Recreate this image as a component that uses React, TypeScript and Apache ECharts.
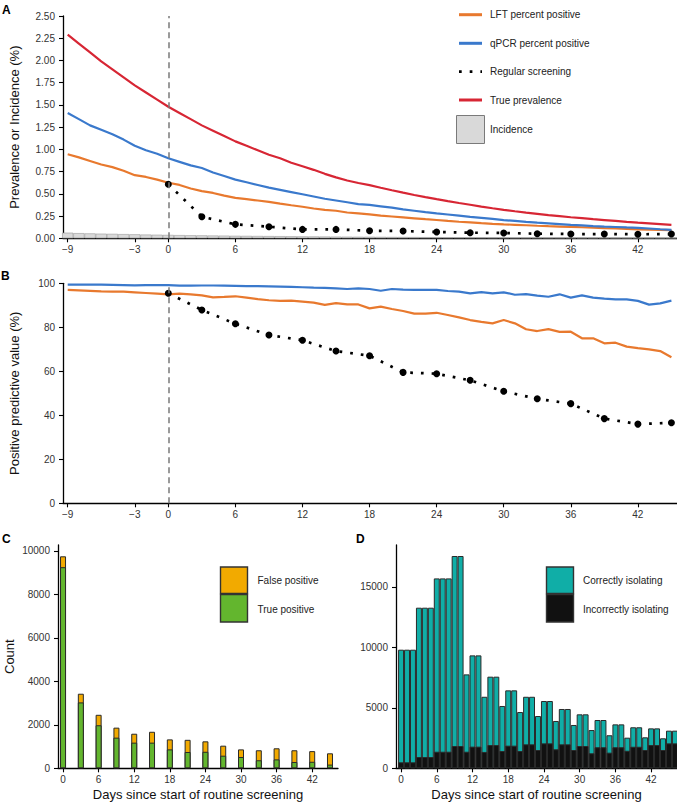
import React, { useEffect, useRef } from "react";
import * as echarts from "echarts";

// ---------- Panel A / B: daily values ----------
const days = [-9, -8, -7, -6, -5, -4, -3, -2, -1, 0, 1, 2, 3, 4, 5, 6, 7, 8, 9, 10, 11, 12, 13, 14, 15, 16, 17, 18, 19, 20, 21, 22, 23, 24, 25, 26, 27, 28, 29, 30, 31, 32, 33, 34, 35, 36, 37, 38, 39, 40, 41, 42, 43, 44, 45];

const truePrevalence = [2.29, 2.19, 2.09, 1.99, 1.9, 1.81, 1.72, 1.64, 1.56, 1.48, 1.41, 1.34, 1.27, 1.21, 1.15, 1.09, 1.04, 0.99, 0.94, 0.9, 0.85, 0.81, 0.77, 0.725, 0.685, 0.65, 0.622, 0.598, 0.568, 0.54, 0.513, 0.487, 0.463, 0.44, 0.418, 0.397, 0.377, 0.357, 0.338, 0.32, 0.304, 0.289, 0.275, 0.261, 0.249, 0.237, 0.226, 0.215, 0.205, 0.195, 0.185, 0.176, 0.168, 0.16, 0.152];

const qpcrPositive = [1.41, 1.34, 1.27, 1.22, 1.17, 1.11, 1.04, 0.99, 0.95, 0.9, 0.86, 0.82, 0.79, 0.74, 0.7, 0.66, 0.63, 0.6, 0.57, 0.545, 0.52, 0.495, 0.47, 0.445, 0.425, 0.405, 0.385, 0.375, 0.36, 0.345, 0.325, 0.31, 0.295, 0.281, 0.268, 0.255, 0.242, 0.23, 0.218, 0.205, 0.195, 0.185, 0.176, 0.168, 0.16, 0.152, 0.145, 0.138, 0.132, 0.127, 0.122, 0.118, 0.11, 0.102, 0.095];

const lftPositive = [0.945, 0.91, 0.87, 0.83, 0.8, 0.76, 0.71, 0.69, 0.66, 0.625, 0.6, 0.56, 0.53, 0.51, 0.48, 0.455, 0.44, 0.425, 0.41, 0.39, 0.372, 0.355, 0.335, 0.32, 0.31, 0.29, 0.28, 0.27, 0.255, 0.245, 0.235, 0.225, 0.215, 0.206, 0.195, 0.186, 0.178, 0.17, 0.163, 0.157, 0.152, 0.147, 0.141, 0.136, 0.132, 0.128, 0.124, 0.12, 0.115, 0.111, 0.107, 0.1, 0.097, 0.095, 0.093];

const incidence = [0.063, 0.058, 0.055, 0.052, 0.05, 0.047, 0.045, 0.042, 0.04, 0.038, 0.036, 0.034, 0.033, 0.031, 0.03, 0.028, 0.027, 0.026, 0.025, 0.024, 0.023, 0.022, 0.021, 0.02, 0.019, 0.018, 0.017, 0.017, 0.016, 0.015, 0.015, 0.014, 0.013, 0.013, 0.012, 0.012, 0.011, 0.011, 0.01, 0.01, 0.009, 0.009, 0.009, 0.008, 0.008, 0.008, 0.007, 0.007, 0.007, 0.006, 0.006, 0.006, 0.006, 0.005, 0.005];

const screenDays = [0, 3, 6, 9, 12, 15, 18, 21, 24, 27, 30, 33, 36, 39, 42, 45];
const screeningPositive = [0.607, 0.243, 0.157, 0.13, 0.1, 0.1, 0.085, 0.082, 0.071, 0.063, 0.06, 0.052, 0.048, 0.048, 0.045, 0.048];

const qpcrPPV = [99.4, 99.4, 99.4, 99.4, 99.3, 99.2, 99.1, 99.2, 99.2, 99.2, 98.9, 98.9, 99.0, 99.0, 98.9, 98.8, 98.7, 98.7, 98.6, 98.5, 98.4, 98.2, 98.0, 97.9, 97.7, 97.4, 97.7, 97.4, 96.6, 97.4, 97.1, 97.0, 97.0, 97.0, 96.5, 96.2, 95.4, 96.0, 95.4, 95.9, 94.8, 95.1, 94.4, 93.9, 95.0, 93.5, 94.5, 93.5, 93.0, 92.7, 92.7, 92.0, 90.3, 90.9, 92.1];

const lftPPV = [97.0, 96.8, 96.6, 96.3, 96.2, 96.2, 95.9, 95.6, 95.3, 95.0, 95.3, 95.0, 94.5, 93.6, 93.8, 94.1, 93.5, 92.8, 92.3, 92.0, 92.1, 91.7, 91.2, 90.2, 91.0, 90.4, 90.4, 88.6, 89.4, 88.3, 87.4, 86.2, 86.2, 86.6, 85.6, 84.5, 83.3, 82.5, 81.8, 83.3, 81.8, 79.1, 78.3, 79.2, 77.9, 78.0, 75.0, 75.0, 72.7, 73.0, 71.2, 70.5, 70.0, 69.2, 66.4];

const screeningPPV = [95.5, 87.9, 81.6, 76.5, 74.1, 69.2, 67.1, 59.5, 58.9, 55.9, 50.9, 47.5, 45.3, 38.5, 36.0, 36.6];

// ---------- Panel C ----------
const truePositive = [9250, 3030, 1980, 1410, 1180, 1180, 870, 750, 760, 580, 520, 370, 410, 290, 300, 170];
const falsePositive = [500, 400, 480, 460, 410, 500, 460, 560, 480, 460, 350, 460, 510, 540, 490, 520];

// ---------- Panel D ----------
const isolationDays = [0, 1, 2, 3, 4, 5, 6, 7, 8, 9, 10, 11, 12, 13, 14, 15, 16, 17, 18, 19, 20, 21, 22, 23, 24, 25, 26, 27, 28, 29, 30, 31, 32, 33, 34, 35, 36, 37, 38, 39, 40, 41, 42, 43, 44, 45, 46];
const incorrectlyIsolating = [495, 495, 495, 930, 930, 930, 1370, 1370, 1370, 1840, 1840, 1370, 1790, 1790, 1350, 1920, 1920, 1430, 1870, 1870, 1430, 1980, 1980, 1510, 2060, 2060, 1570, 1980, 1980, 1510, 1840, 1840, 1240, 1740, 1740, 1290, 1740, 1740, 1450, 1780, 1780, 1510, 1920, 1920, 1510, 2060, 2060];
const correctlyIsolating = [9305, 9305, 9305, 12340, 12340, 12340, 14320, 14320, 14320, 15700, 15700, 6390, 7540, 7540, 4560, 5650, 5650, 3720, 4570, 4570, 3220, 3930, 3930, 2810, 3500, 3500, 2340, 2920, 2920, 2070, 2620, 2620, 1920, 2250, 2250, 1440, 1890, 1890, 1080, 1610, 1610, 1050, 1380, 1380, 970, 1050, 1050];

// ---------- tick labels ----------
const ticksAB = [-9, -3, 0, 6, 12, 18, 24, 30, 36, 42];
const ticksCD = [0, 6, 12, 18, 24, 30, 36, 42];
const ticksC = [0, 2000, 4000, 6000, 8000, 10000];
const ticksD = [0, 5000, 10000, 15000];

const FONT = "Liberation Sans, Arial, sans-serif";
const C_ORANGE = "#E8792E";
const C_BLUE = "#3A79CC";
const C_RED = "#D72634";
const C_GOLD = "#F2AA00";
const C_GREEN = "#63B62E";
const C_TEAL = "#10AEA7";
const C_BLACK = "#111111";

function pairs(xs: number[], ys: number[]) {
  return xs.map((x, i) => [x, ys[i]]);
}
// stacked top: bottom + top segment, drawn behind the bottom segment
function stackedTops(xs: number[], bottom: number[], top: number[]) {
  return xs.map((x, i) => [x, bottom[i] + top[i]]);
}

function minusFmt(v: number) {
  return v < 0 ? "\u2212" + Math.abs(v) : String(v);
}

const axisLineStyle = { show: true, onZero: false, lineStyle: { color: "#000", width: 1.3 } };
const tickStyle = (vals: number[]) => ({
  show: true,
  length: 4,
  customValues: vals,
  lineStyle: { color: "#000", width: 1.1 },
});
const labelStyle = (vals: number[], fmt?: (v: number) => string, margin = 6) => ({
  show: true,
  customValues: vals,
  color: "#333",
  fontSize: 10,
  fontFamily: FONT,
  margin,
  formatter: fmt || ((v: number) => String(v)),
});
const nameStyle = { fontSize: 13, color: "#111", fontFamily: FONT };

export default function App() {
  const ref = useRef<HTMLDivElement>(null);

  useEffect(() => {
    document.body.style.margin = "0";
    if (!ref.current) return;
    const chart = echarts.init(ref.current, undefined, { renderer: "svg" });

    const dashLine = {
      silent: true,
      symbol: ["none", "none"],
      label: { show: false },
      lineStyle: { color: "#7a7a7a", type: [6, 4], width: 1.5 },
      data: [{ xAxis: 0 }],
    };

    const option: any = {
      animation: false,
      textStyle: { fontFamily: FONT },
      grid: [
        { left: 58, top: 16, width: 619, height: 222.3 },
        { left: 58, top: 283.3, width: 619, height: 220 },
        { left: 58, top: 545, width: 280, height: 223.3 },
        { left: 396, top: 545, width: 281, height: 223.3 },
      ],
      xAxis: [
        {
          type: "value", gridIndex: 0, min: -9.42, max: 45.5,
          axisLine: axisLineStyle, axisTick: tickStyle(ticksAB),
          axisLabel: labelStyle(ticksAB, minusFmt), splitLine: { show: false },
        },
        {
          type: "value", gridIndex: 1, min: -9.42, max: 45.5,
          axisLine: axisLineStyle, axisTick: tickStyle(ticksAB),
          axisLabel: labelStyle(ticksAB, minusFmt), splitLine: { show: false },
        },
        {
          type: "value", gridIndex: 2, min: -0.85, max: 46.35,
          axisLine: axisLineStyle, axisTick: tickStyle(ticksCD),
          axisLabel: labelStyle(ticksCD), splitLine: { show: false },
          name: "Days since start of routine screening", nameLocation: "middle", nameGap: 20,
          nameTextStyle: nameStyle,
        },
        {
          type: "value", gridIndex: 3, min: -0.85, max: 46.35,
          axisLine: axisLineStyle, axisTick: tickStyle(ticksCD),
          axisLabel: labelStyle(ticksCD), splitLine: { show: false },
          name: "Days since start of routine screening", nameLocation: "middle", nameGap: 20,
          nameTextStyle: nameStyle,
        },
      ],
      yAxis: [
        {
          type: "value", gridIndex: 0, min: 0, max: 2.5, interval: 0.25,
          axisLine: axisLineStyle, axisTick: { show: true, length: 4, lineStyle: { color: "#000", width: 1.1 } },
          axisLabel: { color: "#333", fontSize: 10, fontFamily: FONT, margin: 8, formatter: (v: number) => v.toFixed(2) },
          splitLine: { show: false },
          name: "Prevalence or Incidence (%)", nameLocation: "middle", nameGap: 42,
          nameTextStyle: nameStyle,
        },
        {
          type: "value", gridIndex: 1, min: 0, max: 100, interval: 20,
          axisLine: axisLineStyle, axisTick: { show: true, length: 4, lineStyle: { color: "#000", width: 1.1 } },
          axisLabel: { color: "#333", fontSize: 10, fontFamily: FONT, margin: 8 },
          splitLine: { show: false },
          name: "Positive predictive value (%)", nameLocation: "middle", nameGap: 42,
          nameTextStyle: nameStyle,
        },
        {
          type: "value", gridIndex: 2, min: 0, max: 10270,
          axisLine: axisLineStyle, axisTick: tickStyle(ticksC),
          axisLabel: labelStyle(ticksC, undefined, 8), splitLine: { show: false },
          name: "Count", nameLocation: "middle", nameGap: 42,
          nameTextStyle: nameStyle,
        },
        {
          type: "value", gridIndex: 3, min: 0, max: 18450,
          axisLine: axisLineStyle, axisTick: tickStyle(ticksD),
          axisLabel: labelStyle(ticksD, undefined, 8), splitLine: { show: false },
        },
      ],
      series: [
        // Panel A
        {
          name: "Incidence", type: "bar", xAxisIndex: 0, yAxisIndex: 0,
          data: pairs(days, incidence), barWidth: 11.2,
          itemStyle: { color: "#d9d9d9", borderColor: "#9a9a9a", borderWidth: 0.6 },
          z: 1,
        },
        {
          name: "LFT percent positive", type: "line", xAxisIndex: 0, yAxisIndex: 0,
          data: pairs(days, lftPositive), showSymbol: false,
          lineStyle: { color: C_ORANGE, width: 2.2 }, z: 3,
          markLine: dashLine,
        },
        {
          name: "qPCR percent positive", type: "line", xAxisIndex: 0, yAxisIndex: 0,
          data: pairs(days, qpcrPositive), showSymbol: false,
          lineStyle: { color: C_BLUE, width: 2.2 }, z: 3,
        },
        {
          name: "True prevalence", type: "line", xAxisIndex: 0, yAxisIndex: 0,
          data: pairs(days, truePrevalence), showSymbol: false,
          lineStyle: { color: C_RED, width: 2.2 }, z: 3,
        },
        {
          name: "Regular screening", type: "line", xAxisIndex: 0, yAxisIndex: 0,
          data: pairs(screenDays, screeningPositive), symbol: "circle", symbolSize: 7,
          itemStyle: { color: "#000" },
          lineStyle: { color: "#000", width: 2.7, type: [2.7, 8] }, z: 4,
        },
        // Panel B
        {
          name: "qPCR PPV", type: "line", xAxisIndex: 1, yAxisIndex: 1,
          data: pairs(days, qpcrPPV), showSymbol: false,
          lineStyle: { color: C_BLUE, width: 2.2 }, z: 3,
          markLine: dashLine,
        },
        {
          name: "LFT PPV", type: "line", xAxisIndex: 1, yAxisIndex: 1,
          data: pairs(days, lftPPV), showSymbol: false,
          lineStyle: { color: C_ORANGE, width: 2.2 }, z: 3,
        },
        {
          name: "Regular screening PPV", type: "line", xAxisIndex: 1, yAxisIndex: 1,
          data: pairs(screenDays, screeningPPV), symbol: "circle", symbolSize: 7,
          itemStyle: { color: "#000" },
          lineStyle: { color: "#000", width: 2.7, type: [2.7, 8] }, z: 4,
        },
        // Panel C (false positive stacked on top of true positive)
        {
          name: "False positive", type: "bar", xAxisIndex: 2, yAxisIndex: 2,
          data: stackedTops(screenDays, truePositive, falsePositive), barWidth: 6,
          itemStyle: { color: C_GOLD, borderColor: "#2a2a2a", borderWidth: 1 },
          z: 2,
        },
        {
          name: "True positive", type: "bar", xAxisIndex: 2, yAxisIndex: 2,
          data: pairs(screenDays, truePositive), barWidth: 6, barGap: "-100%",
          itemStyle: { color: C_GREEN, borderColor: "#2a2a2a", borderWidth: 1 },
          z: 3,
        },
        // Panel D (correctly isolating stacked on top of incorrectly isolating)
        {
          name: "Correctly isolating", type: "bar", xAxisIndex: 3, yAxisIndex: 3,
          data: stackedTops(isolationDays, incorrectlyIsolating, correctlyIsolating), barWidth: 5.95,
          itemStyle: { color: C_TEAL, borderColor: "#2a2a2a", borderWidth: 1 },
          z: 2,
        },
        {
          name: "Incorrectly isolating", type: "bar", xAxisIndex: 3, yAxisIndex: 3,
          data: pairs(isolationDays, incorrectlyIsolating), barWidth: 5.95, barGap: "-100%",
          itemStyle: { color: C_BLACK, borderColor: "#2a2a2a", borderWidth: 1 },
          z: 3,
        },
      ],
      graphic: [
        // panel letters
        { type: "text", left: 2, top: 4, style: { text: "A", font: `bold 12px ${FONT}`, fill: "#000" } },
        { type: "text", left: 1, top: 270, style: { text: "B", font: `bold 12px ${FONT}`, fill: "#000" } },
        { type: "text", left: 2, top: 533, style: { text: "C", font: `bold 12px ${FONT}`, fill: "#000" } },
        { type: "text", left: 356, top: 533, style: { text: "D", font: `bold 12px ${FONT}`, fill: "#000" } },
        // legend A
        { type: "line", shape: { x1: 459, y1: 14.7, x2: 482, y2: 14.7 }, style: { stroke: C_ORANGE, lineWidth: 3 } },
        { type: "line", shape: { x1: 459, y1: 43.3, x2: 482, y2: 43.3 }, style: { stroke: C_BLUE, lineWidth: 3 } },
        { type: "line", shape: { x1: 459, y1: 71.7, x2: 482, y2: 71.7 }, style: { stroke: "#000", lineWidth: 2.7, lineDash: [2.7, 8] } },
        { type: "line", shape: { x1: 459, y1: 100, x2: 482, y2: 100 }, style: { stroke: C_RED, lineWidth: 3 } },
        { type: "rect", shape: { x: 456.5, y: 115.5, width: 28, height: 28 }, style: { fill: "#d9d9d9", stroke: "#7a7a7a", lineWidth: 1 } },
        { type: "text", x: 490, y: 14.7, style: { text: "LFT percent positive", font: `10px ${FONT}`, fill: "#222", textVerticalAlign: "middle" } },
        { type: "text", x: 490, y: 43.3, style: { text: "qPCR percent positive", font: `10px ${FONT}`, fill: "#222", textVerticalAlign: "middle" } },
        { type: "text", x: 490, y: 71.7, style: { text: "Regular screening", font: `10px ${FONT}`, fill: "#222", textVerticalAlign: "middle" } },
        { type: "text", x: 490, y: 100, style: { text: "True prevalence", font: `10px ${FONT}`, fill: "#222", textVerticalAlign: "middle" } },
        { type: "text", x: 490, y: 129.3, style: { text: "Incidence", font: `10px ${FONT}`, fill: "#222", textVerticalAlign: "middle" } },
        // legend C
        { type: "rect", shape: { x: 220.5, y: 567, width: 27, height: 26.5 }, style: { fill: C_GOLD, stroke: "#333", lineWidth: 1.4 } },
        { type: "rect", shape: { x: 220.5, y: 594.5, width: 27, height: 27.5 }, style: { fill: C_GREEN, stroke: "#333", lineWidth: 1.4 } },
        { type: "text", x: 257.5, y: 580.7, style: { text: "False positive", font: `10px ${FONT}`, fill: "#222", textVerticalAlign: "middle" } },
        { type: "text", x: 257.5, y: 609.3, style: { text: "True positive", font: `10px ${FONT}`, fill: "#222", textVerticalAlign: "middle" } },
        // legend D
        { type: "rect", shape: { x: 546.5, y: 567, width: 27, height: 26.5 }, style: { fill: C_TEAL, stroke: "#333", lineWidth: 1.4 } },
        { type: "rect", shape: { x: 546.5, y: 594.5, width: 27, height: 27.5 }, style: { fill: C_BLACK, stroke: "#333", lineWidth: 1.4 } },
        { type: "text", x: 583, y: 580.7, style: { text: "Correctly isolating", font: `10px ${FONT}`, fill: "#222", textVerticalAlign: "middle" } },
        { type: "text", x: 583, y: 609.3, style: { text: "Incorrectly isolating", font: `10px ${FONT}`, fill: "#222", textVerticalAlign: "middle" } },
      ],
    };

    chart.setOption(option);
    return () => chart.dispose();
  }, []);

  return <div ref={ref} style={{ width: 677, height: 804 }} />;
}
